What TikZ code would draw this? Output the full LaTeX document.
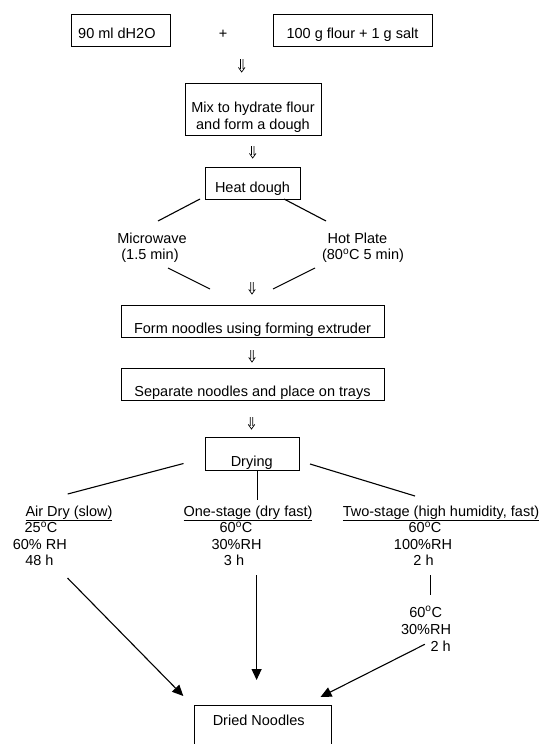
\documentclass[tikz,border=0pt]{standalone}
\usepackage{fontspec}
\setmainfont{Liberation Sans}
\usetikzlibrary{arrows.meta,calc}
\begin{document}
\begin{tikzpicture}[x=1pt,y=-1pt,
  box/.style={draw, line width=0.9pt, inner sep=0pt, anchor=north west},
  txt/.style={font=\fontsize{14.5}{17}\selectfont, inner sep=0pt, anchor=base},
  ln/.style={line width=1.1pt},
  dbl/.style={line width=0.7pt, line join=miter, to path={
    ($(\tikztostart)+(-1.3,0)$) -- ($(\tikztotarget)+(-1.3,-3.2)$)
    ($(\tikztostart)+(1.3,0)$) -- ($(\tikztotarget)+(1.3,-3.2)$)
    ($(\tikztotarget)+(-3.3,-4.6)$) -- (\tikztotarget) -- ($(\tikztotarget)+(3.3,-4.6)$)}},
  arr/.style={line width=1.1pt, -{Triangle[length=11pt,width=10pt]}}]
\useasboundingbox (0,0) rectangle (542,744);
\clip (0,0) rectangle (542,744);
\fill[white] (0,0) rectangle (542,744);

% boxes
\node[box, minimum width=99pt, minimum height=32pt] (water) at (71,14) {};
\node[box, minimum width=159pt, minimum height=32pt] (flour) at (273,14) {};
\node[box, minimum width=136pt, minimum height=52pt] (mix) at (185,83) {};
\node[box, minimum width=95pt, minimum height=32pt] (heat) at (205,167) {};
\node[box, minimum width=263pt, minimum height=32pt] (form) at (121,305) {};
\node[box, minimum width=263pt, minimum height=32pt] (sep) at (121,368) {};
\node[box, minimum width=94pt, minimum height=32.5pt] (dry) at (204.5,437) {};
\node[box, minimum width=137pt, minimum height=60pt] (dried) at (193.5,705) {};

% texts
\node[txt, anchor=base west] (waterT) at (78,38.5) {90 ml dH2O};
\node[txt] (plus) at (223,38.5) {+};
\node[txt] (flourT) at (352.5,38.5) {100 g flour + 1 g salt};
\node[txt] (mixT1) at (253,112) {Mix to hydrate flour};
\node[txt] (mixT2) at (253,129) {and form a dough};
\node[txt] (heatT) at (252.5,192) {Heat dough};
\node[txt] (micT1) at (152,243.3) {Microwave};
\node[txt] (micT2) at (150,259.5) {(1.5 min)};
\node[txt] (hotT1) at (357.5,243.3) {Hot Plate};
\node[txt] (hotT2) at (363,259.5) {(80\textsuperscript{o}C 5 min)};
\node[txt] (formT) at (252.5,333) {Form noodles using forming extruder};
\node[txt] (sepT) at (252.5,396) {Separate noodles and place on trays};
\node[txt] (dryT) at (251.7,466) {Drying};
\node[txt] (driedT) at (258.7,725) {Dried Noodles};

\node[txt] (airH) at (69,516) {\underline{Air Dry (slow)}};
\node[txt] (air1) at (41,532.5) {25\textsuperscript{o}C};
\node[txt] (air2) at (39.8,549) {60\% RH};
\node[txt] (air3) at (39.4,565.5) {48 h};

\node[txt] (oneH) at (248,516) {\underline{One-stage (dry fast)}};
\node[txt] (one1) at (236,532.5) {60\textsuperscript{o}C};
\node[txt] (one2) at (236.6,549) {30\%RH};
\node[txt] (one3) at (234,565.5) {3 h};

\node[txt] (twoH) at (441,516) {\underline{Two-stage (high humidity, fast)}};
\node[txt] (two1) at (425,532.5) {60\textsuperscript{o}C};
\node[txt] (two2) at (423,549) {100\%RH};
\node[txt] (two3) at (423.5,565.5) {2 h};

\node[txt] (sec1) at (425.7,617) {60\textsuperscript{o}C};
\node[txt] (sec2) at (426,634) {30\%RH};
\node[txt, anchor=base east] (sec3) at (451,651) {2 h};

% double arrows
\coordinate (a1s) at (241.7,59); \coordinate (a1e) at (241.7,72);
\coordinate (a2s) at (252.7,146); \coordinate (a2e) at (252.7,158);
\coordinate (a3s) at (252,282); \coordinate (a3e) at (252,294);
\coordinate (a4s) at (252,350); \coordinate (a4e) at (252,362);
\coordinate (a5s) at (251.5,417); \coordinate (a5e) at (251.5,429);
\draw[dbl] (a1s) to (a1e);
\draw[dbl] (a2s) to (a2e);
\draw[dbl] (a3s) to (a3e);
\draw[dbl] (a4s) to (a4e);
\draw[dbl] (a5s) to (a5e);

% heat branches
\coordinate (h1) at (200,199); \coordinate (h2) at (158,221);
\coordinate (h3) at (284,199); \coordinate (h4) at (326,221);
\coordinate (m1) at (168,268); \coordinate (m2) at (210,289);
\coordinate (p1) at (315,268); \coordinate (p2) at (273,289);
\draw[ln] (h1) -- (h2);
\draw[ln] (h3) -- (h4);
\draw[ln] (m1) -- (m2);
\draw[ln] (p1) -- (p2);

% drying branches
\coordinate (d1) at (183.5,463.5); \coordinate (d2) at (67.7,494);
\coordinate (d3) at (310,464); \coordinate (d4) at (415,496);
\coordinate (d5) at (257,470); \coordinate (d6) at (257,500);
\draw[ln] (d1) -- (d2);
\draw[ln] (d3) -- (d4);
\draw[line width=0.9pt] (d5) -- (d6);

% final arrows
\coordinate (e1) at (67.5,578); \coordinate (f1) at (183.3,696);
\coordinate (e2) at (256.6,575); \coordinate (f2) at (256.6,680);
\coordinate (e3) at (430.4,575); \coordinate (f3) at (430.4,595);
\coordinate (e4) at (424.8,644.3); \coordinate (f4) at (320.5,697);
\draw[arr] (e1) -- (f1);
\draw[arr] (e2) -- (f2);
\draw[ln] (e3) -- (f3);
\draw[arr] (e4) -- (f4);
\end{tikzpicture}
\end{document}
